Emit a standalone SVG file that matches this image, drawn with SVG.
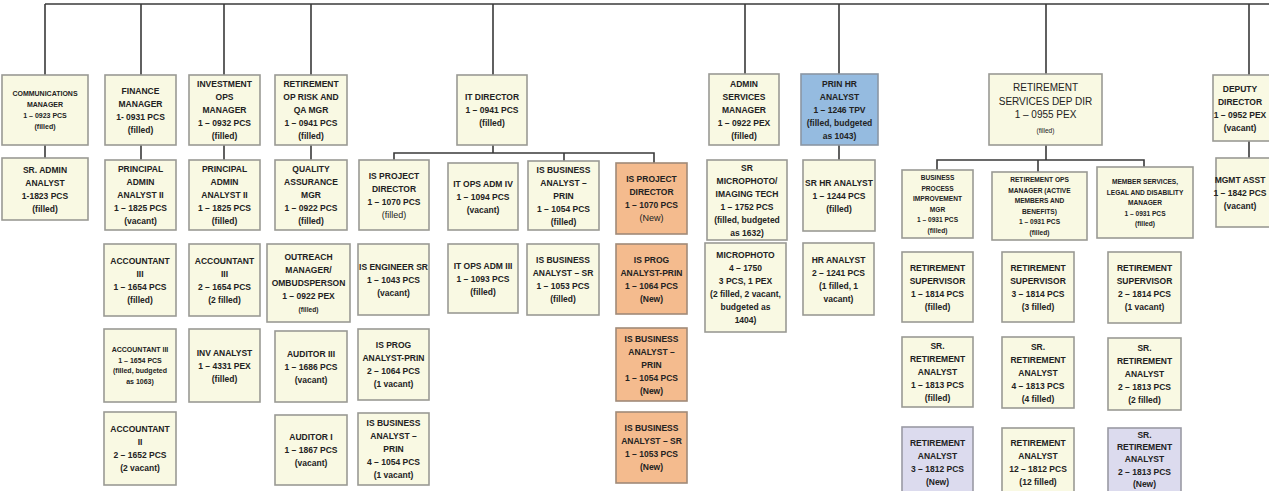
<svg xmlns="http://www.w3.org/2000/svg" width="1269" height="491" viewBox="0 0 1269 491">
<style>
.b{fill:#f9f9e3;stroke:#9a9a94;stroke-width:1.6}
.o{fill:#f4bb8e;stroke:#a08a78;stroke-width:1.6}
.bl{fill:#95bbe0;stroke:#8a96a4;stroke-width:1.6}
.lv{fill:#dcdbee;stroke:#9a9aa4;stroke-width:1.6}
text{font-family:"Liberation Sans",Arial,sans-serif;fill:#222;text-anchor:middle}
.t{font-size:8.5px;font-weight:bold}
.s{font-size:6.6px;font-weight:bold}
.n{font-weight:normal}
.c path{fill:none;stroke:#3a3a3a;stroke-width:1.6}
</style>
<g class="c" id="connectors">
<path d="M45,4 H1269"/>
<path d="M45,4 V158 M141,4 V160 M224,4 V160 M311,4 V160 M493,4 V153 M745,4 V74 M839,4 V160 M1046,4 V160 M1249,4 V158"/>
<path d="M394,160 V153 H654 V163 M564,153 V161"/>
<path d="M937,170 V160 H1144 V167 M1038,160 V172"/>
</g>

<g id="comm-mgr"><rect class="b" x="2" y="75" width="86" height="70"/><text class="s" style="font-size:7px" x="45" y="96"><tspan x="45">COMMUNICATIONS</tspan><tspan x="45" dy="11">MANAGER</tspan><tspan x="45" dy="11">1 – 0923 PCS</tspan><tspan x="45" dy="11">(filled)</tspan></text></g>
<g id="finance-mgr"><rect class="b" x="105" y="75" width="71" height="70"/><text class="t" x="140.5" y="93.5"><tspan x="140.5">FINANCE</tspan><tspan x="140.5" dy="13">MANAGER</tspan><tspan x="140.5" dy="13">1- 0931 PCS</tspan><tspan x="140.5" dy="13">(filled)</tspan></text></g>
<g id="invest-ops-mgr"><rect class="b" x="189" y="75" width="71" height="70"/><text class="t" x="224.5" y="87"><tspan x="224.5">INVESTMENT</tspan><tspan x="224.5" dy="13">OPS</tspan><tspan x="224.5" dy="13">MANAGER</tspan><tspan x="224.5" dy="13">1 – 0932 PCS</tspan><tspan x="224.5" dy="13">(filled)</tspan></text></g>
<g id="ret-op-risk"><rect class="b" x="275" y="75" width="72" height="70"/><text class="t" x="311" y="87"><tspan x="311">RETIREMENT</tspan><tspan x="311" dy="13">OP RISK AND</tspan><tspan x="311" dy="13">QA MGR</tspan><tspan x="311" dy="13">1 – 0941 PCS</tspan><tspan x="311" dy="13">(filled)</tspan></text></g>
<g id="it-director"><rect class="b" x="457" y="75" width="70" height="70"/><text class="t" x="492" y="100"><tspan x="492">IT DIRECTOR</tspan><tspan x="492" dy="13">1 – 0941 PCS</tspan><tspan x="492" dy="13">(filled)</tspan></text></g>
<g id="admin-services"><rect class="b" x="709" y="74" width="70" height="71"/><text class="t" x="744" y="86.5"><tspan x="744">ADMIN</tspan><tspan x="744" dy="13">SERVICES</tspan><tspan x="744" dy="13">MANAGER</tspan><tspan x="744" dy="13">1 – 0922 PEX</tspan><tspan x="744" dy="13">(filled)</tspan></text></g>
<g id="prin-hr"><rect class="bl" x="801" y="74" width="77" height="71"/><text class="t" x="839.5" y="86.5"><tspan x="839.5">PRIN HR</tspan><tspan x="839.5" dy="13">ANALYST</tspan><tspan x="839.5" dy="13">1 – 1246 TPV</tspan><tspan x="839.5" dy="13">(filled, budgeted</tspan><tspan x="839.5" dy="13">as 1043)</tspan></text></g>
<g id="ret-services"><rect class="b" x="989" y="74" width="113" height="71"/><text style="font-size:10px" x="1045.5" y="91"><tspan x="1045.5">RETIREMENT</tspan><tspan x="1045.5" dy="13.5">SERVICES DEP DIR</tspan><tspan x="1045.5" dy="13.5">1 – 0955 PEX</tspan><tspan x="1045.5" dy="15" style="font-size:6.6px">(filled)</tspan></text></g>
<g id="deputy-director"><rect class="b" x="1213" y="75" width="74" height="66"/><text class="t" x="1240" y="91.5"><tspan x="1240">DEPUTY</tspan><tspan x="1240" dy="13">DIRECTOR</tspan><tspan x="1240" dy="13">1 – 0952 PEX</tspan><tspan x="1240" dy="13">(vacant)</tspan></text></g>

<g id="sr-admin-analyst"><rect class="b" x="2" y="158" width="86" height="62"/><text class="t" x="45" y="172.5"><tspan x="45">SR. ADMIN</tspan><tspan x="45" dy="13">ANALYST</tspan><tspan x="45" dy="13">1-1823 PCS</tspan><tspan x="45" dy="13">(filled)</tspan></text></g>
<g id="prin-admin-fin"><rect class="b" x="105" y="160" width="71" height="70"/><text class="t" x="140.5" y="172"><tspan x="140.5">PRINCIPAL</tspan><tspan x="140.5" dy="13">ADMIN</tspan><tspan x="140.5" dy="13">ANALYST II</tspan><tspan x="140.5" dy="13">1 – 1825 PCS</tspan><tspan x="140.5" dy="13">(vacant)</tspan></text></g>
<g id="prin-admin-inv"><rect class="b" x="189" y="160" width="71" height="70"/><text class="t" x="224.5" y="172"><tspan x="224.5">PRINCIPAL</tspan><tspan x="224.5" dy="13">ADMIN</tspan><tspan x="224.5" dy="13">ANALYST II</tspan><tspan x="224.5" dy="13">1 – 1825 PCS</tspan><tspan x="224.5" dy="13">(filled)</tspan></text></g>
<g id="qa-mgr"><rect class="b" x="275" y="160" width="72" height="70"/><text class="t" x="311" y="172"><tspan x="311">QUALITY</tspan><tspan x="311" dy="13">ASSURANCE</tspan><tspan x="311" dy="13">MGR</tspan><tspan x="311" dy="13">1 – 0922 PCS</tspan><tspan x="311" dy="13">(filled)</tspan></text></g>
<g id="is-proj-dir"><rect class="b" x="359" y="160" width="70" height="70"/><text class="t" x="394" y="178.5"><tspan x="394">IS PROJECT</tspan><tspan x="394" dy="13">DIRECTOR</tspan><tspan x="394" dy="13">1 – 1070 PCS</tspan><tspan x="394" dy="13" class="n" style="font-size:9px">(filled)</tspan></text></g>
<g id="it-ops-adm-iv"><rect class="b" x="448" y="163" width="70" height="67"/><text class="t" x="483" y="186.5"><tspan x="483">IT OPS ADM IV</tspan><tspan x="483" dy="13">1 – 1094 PCS</tspan><tspan x="483" dy="13">(vacant)</tspan></text></g>
<g id="is-ba-prin"><rect class="b" x="528" y="161" width="71" height="69"/><text class="t" x="563.5" y="172.5"><tspan x="563.5">IS BUSINESS</tspan><tspan x="563.5" dy="13">ANALYST –</tspan><tspan x="563.5" dy="13">PRIN</tspan><tspan x="563.5" dy="13">1 – 1054 PCS</tspan><tspan x="563.5" dy="13">(filled)</tspan></text></g>
<g id="is-proj-dir-new"><rect class="o" x="616" y="163" width="71" height="71"/><text class="t" x="651.5" y="182"><tspan x="651.5">IS PROJECT</tspan><tspan x="651.5" dy="13">DIRECTOR</tspan><tspan x="651.5" dy="13">1 – 1070 PCS</tspan><tspan x="651.5" dy="13" class="n" style="font-size:9px">(New)</tspan></text></g>
<g id="sr-microphoto"><rect class="b" x="707" y="160" width="80" height="80"/><text class="t" x="747" y="170.5"><tspan x="747">SR</tspan><tspan x="747" dy="13">MICROPHOTO/</tspan><tspan x="747" dy="13">IMAGING TECH</tspan><tspan x="747" dy="13">1 – 1752 PCS</tspan><tspan x="747" dy="13">(filled, budgeted</tspan><tspan x="747" dy="13">as 1632)</tspan></text></g>
<g id="sr-hr-analyst"><rect class="b" x="803" y="160" width="72" height="71"/><text class="t" x="839" y="185.5"><tspan x="839">SR HR ANALYST</tspan><tspan x="839" dy="13">1 – 1244 PCS</tspan><tspan x="839" dy="13">(filled)</tspan></text></g>
<g id="bpi-mgr"><rect class="b" x="902" y="170" width="71" height="68"/><text class="s" x="937.5" y="180"><tspan x="937.5">BUSINESS</tspan><tspan x="937.5" dy="10.5">PROCESS</tspan><tspan x="937.5" dy="10.5">IMPROVEMENT</tspan><tspan x="937.5" dy="10.5">MGR</tspan><tspan x="937.5" dy="10.5">1 – 0931 PCS</tspan><tspan x="937.5" dy="10.5">(filled)</tspan></text></g>
<g id="ret-ops-mgr"><rect class="b" x="992" y="172" width="95" height="68"/><text class="s" x="1039.5" y="182"><tspan x="1039.5">RETIREMENT OPS</tspan><tspan x="1039.5" dy="10.5">MANAGER (ACTIVE</tspan><tspan x="1039.5" dy="10.5">MEMBERS AND</tspan><tspan x="1039.5" dy="10.5">BENEFITS)</tspan><tspan x="1039.5" dy="10.5">1 – 0931 PCS</tspan><tspan x="1039.5" dy="10.5">(filled)</tspan></text></g>
<g id="member-services-mgr"><rect class="b" x="1097" y="167" width="96" height="71"/><text class="s" x="1145" y="184"><tspan x="1145">MEMBER SERVICES,</tspan><tspan x="1145" dy="10.5">LEGAL AND DISABILITY</tspan><tspan x="1145" dy="10.5">MANAGER</tspan><tspan x="1145" dy="10.5">1 – 0931 PCS</tspan><tspan x="1145" dy="10.5">(filled)</tspan></text></g>
<g id="mgmt-asst"><rect class="b" x="1216" y="158" width="71" height="69"/><text class="t" x="1240" y="182.5"><tspan x="1240">MGMT ASST</tspan><tspan x="1240" dy="13">1 – 1842 PCS</tspan><tspan x="1240" dy="13">(vacant)</tspan></text></g>

<g id="accountant-iii-a"><rect class="b" x="104" y="244" width="72" height="72"/><text class="t" x="140" y="263.5"><tspan x="140">ACCOUNTANT</tspan><tspan x="140" dy="13">III</tspan><tspan x="140" dy="13">1 – 1654 PCS</tspan><tspan x="140" dy="13">(filled)</tspan></text></g>
<g id="accountant-iii-b"><rect class="b" x="189" y="244" width="71" height="72"/><text class="t" x="224.5" y="263.5"><tspan x="224.5">ACCOUNTANT</tspan><tspan x="224.5" dy="13">III</tspan><tspan x="224.5" dy="13">2 – 1654 PCS</tspan><tspan x="224.5" dy="13">(2 filled)</tspan></text></g>
<g id="outreach-mgr"><rect class="b" x="267" y="244" width="83" height="78"/><text class="t" x="308.5" y="260"><tspan x="308.5">OUTREACH</tspan><tspan x="308.5" dy="13">MANAGER/</tspan><tspan x="308.5" dy="13">OMBUDSPERSON</tspan><tspan x="308.5" dy="13">1 – 0922 PEX</tspan><tspan x="308.5" dy="13" class="s">(filled)</tspan></text></g>
<g id="is-engineer-sr"><rect class="b" x="358" y="244" width="71" height="71"/><text class="t" x="393.5" y="269.5"><tspan x="393.5">IS ENGINEER SR</tspan><tspan x="393.5" dy="13">1 – 1043 PCS</tspan><tspan x="393.5" dy="13">(vacant)</tspan></text></g>
<g id="it-ops-adm-iii"><rect class="b" x="448" y="244" width="70" height="69"/><text class="t" x="483" y="268.5"><tspan x="483">IT OPS ADM III</tspan><tspan x="483" dy="13">1 – 1093 PCS</tspan><tspan x="483" dy="13">(filled)</tspan></text></g>
<g id="is-ba-sr"><rect class="b" x="527" y="244" width="72" height="71"/><text class="t" x="563" y="263"><tspan x="563">IS BUSINESS</tspan><tspan x="563" dy="13">ANALYST – SR</tspan><tspan x="563" dy="13">1 – 1053 PCS</tspan><tspan x="563" dy="13">(filled)</tspan></text></g>
<g id="is-prog-prin-new"><rect class="o" x="616" y="244" width="71" height="70"/><text class="t" x="651.5" y="262.5"><tspan x="651.5">IS PROG</tspan><tspan x="651.5" dy="13">ANALYST-PRIN</tspan><tspan x="651.5" dy="13">1 – 1064 PCS</tspan><tspan x="651.5" dy="13">(New)</tspan></text></g>
<g id="microphoto"><rect class="b" x="705" y="243" width="81" height="89"/><text class="t" x="745.5" y="258"><tspan x="745.5">MICROPHOTO</tspan><tspan x="745.5" dy="13">4 – 1750</tspan><tspan x="745.5" dy="13">3 PCS, 1 PEX</tspan><tspan x="745.5" dy="13">(2 filled, 2 vacant,</tspan><tspan x="745.5" dy="13">budgeted as</tspan><tspan x="745.5" dy="13">1404)</tspan></text></g>
<g id="hr-analyst"><rect class="b" x="803" y="243" width="71" height="72"/><text class="t" x="838.5" y="262.5"><tspan x="838.5">HR ANALYST</tspan><tspan x="838.5" dy="13">2 – 1241 PCS</tspan><tspan x="838.5" dy="13">(1 filled, 1</tspan><tspan x="838.5" dy="13">vacant)</tspan></text></g>
<g id="ret-sup-a"><rect class="b" x="902" y="252" width="71" height="70"/><text class="t" x="937.5" y="270.5"><tspan x="937.5">RETIREMENT</tspan><tspan x="937.5" dy="13">SUPERVISOR</tspan><tspan x="937.5" dy="13">1 – 1814 PCS</tspan><tspan x="937.5" dy="13">(filled)</tspan></text></g>
<g id="ret-sup-b"><rect class="b" x="1002" y="252" width="72" height="70"/><text class="t" x="1038" y="270.5"><tspan x="1038">RETIREMENT</tspan><tspan x="1038" dy="13">SUPERVISOR</tspan><tspan x="1038" dy="13">3 – 1814 PCS</tspan><tspan x="1038" dy="13">(3 filled)</tspan></text></g>
<g id="ret-sup-c"><rect class="b" x="1108" y="252" width="73" height="71"/><text class="t" x="1144.5" y="271"><tspan x="1144.5">RETIREMENT</tspan><tspan x="1144.5" dy="13">SUPERVISOR</tspan><tspan x="1144.5" dy="13">2 – 1814 PCS</tspan><tspan x="1144.5" dy="13">(1 vacant)</tspan></text></g>

<g id="accountant-iii-c"><rect class="b" x="104" y="329" width="72" height="73"/><text class="s" style="font-size:7px" x="140" y="352"><tspan x="140">ACCOUNTANT III</tspan><tspan x="140" dy="10.5">1 – 1654 PCS</tspan><tspan x="140" dy="10.5">(filled, budgeted</tspan><tspan x="140" dy="10.5">as 1063)</tspan></text></g>
<g id="inv-analyst"><rect class="b" x="189" y="329" width="71" height="73"/><text class="t" x="224.5" y="355.5"><tspan x="224.5">INV ANALYST</tspan><tspan x="224.5" dy="13">1 – 4331 PEX</tspan><tspan x="224.5" dy="13">(filled)</tspan></text></g>
<g id="auditor-iii"><rect class="b" x="275" y="331" width="72" height="71"/><text class="t" x="311" y="356.5"><tspan x="311">AUDITOR III</tspan><tspan x="311" dy="13">1 – 1686 PCS</tspan><tspan x="311" dy="13">(vacant)</tspan></text></g>
<g id="is-prog-prin"><rect class="b" x="358" y="329" width="71" height="71"/><text class="t" x="393.5" y="348"><tspan x="393.5">IS PROG</tspan><tspan x="393.5" dy="13">ANALYST-PRIN</tspan><tspan x="393.5" dy="13">2 – 1064 PCS</tspan><tspan x="393.5" dy="13">(1 vacant)</tspan></text></g>
<g id="is-ba-prin-new"><rect class="o" x="616" y="328" width="71" height="73"/><text class="t" x="651.5" y="341.5"><tspan x="651.5">IS BUSINESS</tspan><tspan x="651.5" dy="13">ANALYST –</tspan><tspan x="651.5" dy="13">PRIN</tspan><tspan x="651.5" dy="13">1 – 1054 PCS</tspan><tspan x="651.5" dy="13">(New)</tspan></text></g>
<g id="sr-ret-analyst-a"><rect class="b" x="902" y="337" width="71" height="70"/><text class="t" x="937.5" y="349"><tspan x="937.5">SR.</tspan><tspan x="937.5" dy="13">RETIREMENT</tspan><tspan x="937.5" dy="13">ANALYST</tspan><tspan x="937.5" dy="13">1 – 1813 PCS</tspan><tspan x="937.5" dy="13">(filled)</tspan></text></g>
<g id="sr-ret-analyst-b"><rect class="b" x="1002" y="337" width="72" height="71"/><text class="t" x="1038" y="349.5"><tspan x="1038">SR.</tspan><tspan x="1038" dy="13">RETIREMENT</tspan><tspan x="1038" dy="13">ANALYST</tspan><tspan x="1038" dy="13">4 – 1813 PCS</tspan><tspan x="1038" dy="13">(4 filled)</tspan></text></g>
<g id="sr-ret-analyst-c"><rect class="b" x="1108" y="338" width="73" height="72"/><text class="t" x="1144.5" y="351"><tspan x="1144.5">SR.</tspan><tspan x="1144.5" dy="13">RETIREMENT</tspan><tspan x="1144.5" dy="13">ANALYST</tspan><tspan x="1144.5" dy="13">2 – 1813 PCS</tspan><tspan x="1144.5" dy="13">(2 filled)</tspan></text></g>

<g id="accountant-ii"><rect class="b" x="104" y="412" width="72" height="73"/><text class="t" x="140" y="432"><tspan x="140">ACCOUNTANT</tspan><tspan x="140" dy="13">II</tspan><tspan x="140" dy="13">2 – 1652 PCS</tspan><tspan x="140" dy="13">(2 vacant)</tspan></text></g>
<g id="auditor-i"><rect class="b" x="275" y="415" width="72" height="70"/><text class="t" x="311" y="440"><tspan x="311">AUDITOR I</tspan><tspan x="311" dy="13">1 – 1867 PCS</tspan><tspan x="311" dy="13">(vacant)</tspan></text></g>
<g id="is-ba-prin-4"><rect class="b" x="358" y="413" width="71" height="72"/><text class="t" x="393.5" y="426"><tspan x="393.5">IS BUSINESS</tspan><tspan x="393.5" dy="13">ANALYST –</tspan><tspan x="393.5" dy="13">PRIN</tspan><tspan x="393.5" dy="13">4 – 1054 PCS</tspan><tspan x="393.5" dy="13">(1 vacant)</tspan></text></g>
<g id="is-ba-sr-new"><rect class="o" x="616" y="412" width="71" height="71"/><text class="t" x="651.5" y="431"><tspan x="651.5">IS BUSINESS</tspan><tspan x="651.5" dy="13">ANALYST – SR</tspan><tspan x="651.5" dy="13">1 – 1053 PCS</tspan><tspan x="651.5" dy="13">(New)</tspan></text></g>
<g id="ret-analyst-new"><rect class="lv" x="902" y="427" width="71" height="68"/><text class="t" x="937.5" y="446"><tspan x="937.5">RETIREMENT</tspan><tspan x="937.5" dy="13">ANALYST</tspan><tspan x="937.5" dy="13">3 – 1812 PCS</tspan><tspan x="937.5" dy="13">(New)</tspan></text></g>
<g id="ret-analyst-12"><rect class="b" x="1002" y="428" width="72" height="67"/><text class="t" x="1038" y="446"><tspan x="1038">RETIREMENT</tspan><tspan x="1038" dy="13">ANALYST</tspan><tspan x="1038" dy="13">12 – 1812 PCS</tspan><tspan x="1038" dy="13">(12 filled)</tspan></text></g>
<g id="sr-ret-analyst-new"><rect class="lv" x="1108" y="428" width="73" height="67"/><text class="t" x="1144.5" y="438"><tspan x="1144.5">SR.</tspan><tspan x="1144.5" dy="12.2">RETIREMENT</tspan><tspan x="1144.5" dy="12.2">ANALYST</tspan><tspan x="1144.5" dy="12.2">2 – 1813 PCS</tspan><tspan x="1144.5" dy="12.2">(New)</tspan></text></g>
</svg>
